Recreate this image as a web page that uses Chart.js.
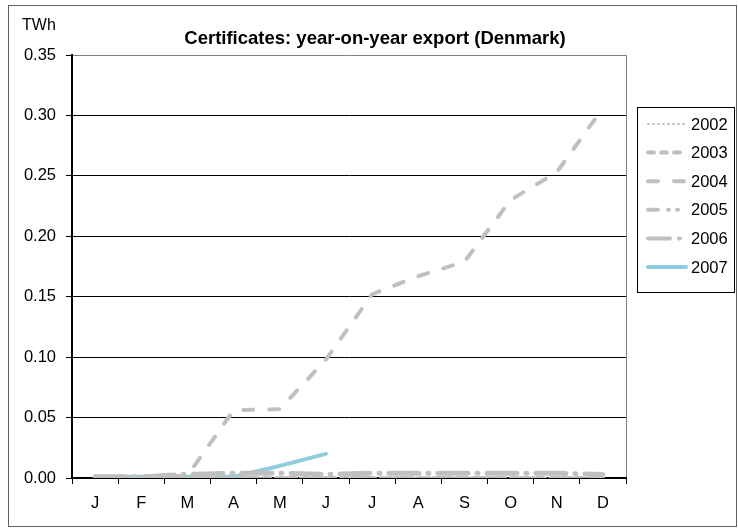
<!doctype html>
<html lang="en">
  <head>
    <meta charset="utf-8">
    <title>Certificates: year-on-year export (Denmark)</title>
    <style>
      html, body { margin: 0; padding: 0; background: #fff; }
      #wrap { width: 738px; height: 530px; }
    </style>
  </head>
  <body>
<div id="wrap"><canvas id="certs" width="738" height="530"></canvas></div>

<script src="https://cdn.jsdelivr.net/npm/chart.js"></script>
<script>
  // data
  var months = ['J', 'F', 'M', 'A', 'M', 'J', 'J', 'A', 'S', 'O', 'N', 'D'];
  var years = ['2002', '2003', '2004', '2005', '2006', '2007'];
  var y2002 = [0, 0, 0, 0, 0, 0, 0, 0, 0, 0, 0, 0];
  var y2003 = [0, 0, 0, 0, 0, 0, 0, 0, 0, 0, 0, 0];
  var y2004 = [0, 0, 0.002, 0.056, 0.057, 0.098, 0.152, 0.167, 0.179, 0.230, 0.253, 0.306];
  var y2005 = [0, 0, 0, 0, 0, 0, 0, 0, 0, 0, 0, 0];
  var y2006 = [0.001, 0.001, 0.003, 0.004, 0.004, 0.003, 0.004, 0.004, 0.004, 0.004, 0.004, 0.003];
  var y2007 = [0.001, 0.001, 0.001, 0.001, 0.010, 0.020];
  var yTicks = [0, 0.05, 0.10, 0.15, 0.20, 0.25, 0.30, 0.35];

  var grey = '#c0c0c0';
  var blue = '#8fccdd';
  var styles = [
    {color: grey, width: 2, dash: [1, 4], cap: 'round'},
    {color: grey, width: 4, dash: [6, 7], cap: 'round'},
    {color: grey, width: 4, dash: [10, 16], cap: 'round'},
    {color: grey, width: 4, dash: [10, 10, 1, 8, 1, 8], cap: 'round'},
    {color: grey, width: 5, dash: [30, 9, 1, 9], cap: 'round'},
    {color: blue, width: 4, dash: [], cap: 'round'}
  ];
  var series = [y2002, y2003, y2004, y2005, y2006, y2007];

  var datasets = [];
  for (var i = 0; i < years.length; i++) {
    datasets.push({
      label: years[i],
      data: series[i],
      borderColor: styles[i].color,
      borderWidth: styles[i].width,
      borderDash: styles[i].dash,
      borderCapStyle: styles[i].cap,
      pointRadius: 0,
      tension: 0,
      fill: false
    });
  }

  var font = '"Liberation Sans", Arial, sans-serif';

  // frame, titles and the boxed legend
  var decor = {
    id: 'decor',
    beforeDraw: function(chart) {
      var ctx = chart.ctx, a = chart.chartArea;
      ctx.save();
      ctx.fillStyle = '#fff';
      ctx.fillRect(0, 0, chart.width, chart.height);
      ctx.strokeStyle = '#808080';
      ctx.lineWidth = 1;
      ctx.beginPath();
      ctx.moveTo(a.right + 0.5, a.top);
      ctx.lineTo(a.right + 0.5, a.bottom);
      ctx.stroke();
      ctx.restore();
    },
    afterDraw: function(chart) {
      var ctx = chart.ctx;
      ctx.save();
      ctx.strokeStyle = '#606060';
      ctx.lineWidth = 1;
      ctx.strokeRect(8.5, 5.5, 728, 521);

      ctx.fillStyle = '#000';
      ctx.textBaseline = 'middle';
      ctx.font = '16px ' + font;
      ctx.textAlign = 'left';
      ctx.fillText('TWh', 22, 26);
      ctx.font = 'bold 18.5px ' + font;
      ctx.textAlign = 'center';
      ctx.fillText('Certificates: year-on-year export (Denmark)', 375, 39);

      // legend
      ctx.strokeStyle = '#000';
      ctx.strokeRect(637.5, 107.5, 97, 185);
      ctx.font = '16.5px ' + font;
      ctx.textAlign = 'left';
      for (var i = 0; i < years.length; i++) {
        var y = 124 + i * 28.6;
        var st = styles[i];
        ctx.save();
        ctx.strokeStyle = st.color;
        ctx.lineWidth = st.width > 4 ? 4 : st.width;
        ctx.lineCap = st.cap;
        ctx.setLineDash(i === 4 ? [22, 9, 1, 9] : st.dash);
        ctx.beginPath();
        ctx.moveTo(648, y);
        ctx.lineTo(686, y);
        ctx.stroke();
        ctx.restore();
        ctx.fillStyle = '#000';
        ctx.fillText(years[i], 691, y + 1);
      }
      ctx.restore();
    }
  };

  new Chart(document.getElementById('certs'), {
    type: 'line',
    data: { labels: months, datasets: datasets },
    options: {
      responsive: false,
      animation: false,
      layout: { padding: { left: 10, right: 112, top: 55, bottom: 6 } },
      plugins: {
        legend: { display: false },
        tooltip: { enabled: false },
        title: { display: false }
      },
      scales: {
        x: {
          type: 'category',
          offset: true,
          z: 1,
          afterFit: function(scale) { scale.height = 46; },
          grid: {
            display: true,
            offset: true,
            drawOnChartArea: false,
            drawTicks: true,
            tickLength: 6,
            color: '#000',
            lineWidth: 1
          },
          border: { display: true, color: '#000', width: 2 },
          ticks: {
            color: '#000',
            font: { family: font, size: 16.5 },
            padding: 10,
            maxRotation: 0,
            autoSkip: false
          }
        },
        y: {
          min: 0,
          max: 0.35,
          afterFit: function(scale) { scale.width = 62; },
          afterBuildTicks: function(scale) {
            scale.ticks = yTicks.map(function(v) { return {value: v}; });
          },
          grid: {
            drawTicks: true,
            tickLength: 6,
            lineWidth: 1,
            color: function(c) {
              return c.tick && c.tick.value >= 0.349 ? '#808080' : '#000';
            },
            tickColor: '#000'
          },
          border: { display: true, color: '#000', width: 2 },
          ticks: {
            color: '#000',
            font: { family: font, size: 16.5 },
            padding: 10,
            callback: function(v) { return Number(v).toFixed(2); }
          }
        }
      }
    },
    plugins: [decor]
  });
</script>
  </body>
</html>
